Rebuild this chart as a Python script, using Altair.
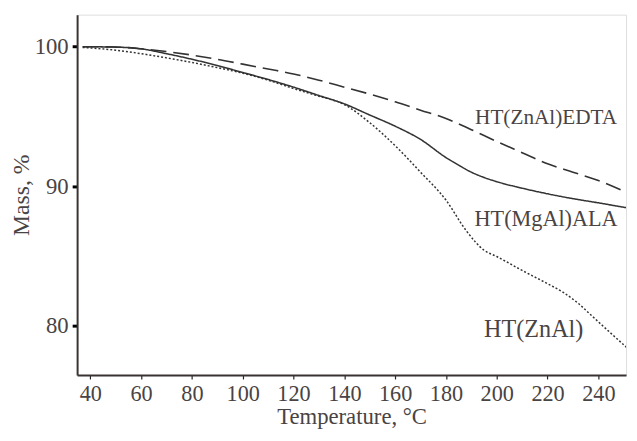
import altair as alt
import pandas as pd

# ---- data ----
edta_t = [37, 50, 60, 70, 80, 90, 100, 110, 120, 130, 140, 150, 160, 170, 180, 190, 200, 210, 220, 230, 240, 251]
edta_m = [100.0, 99.98, 99.85, 99.65, 99.4, 99.1, 98.75, 98.4, 98.05, 97.6, 97.1, 96.6, 96.05, 95.45, 94.85, 94.05, 93.2, 92.4, 91.6, 91.0, 90.4, 89.55]

ala_t = [37, 50, 60, 70, 80, 90, 100, 110, 120, 130, 140, 150, 160, 170, 180, 185, 190, 195, 200, 210, 220, 230, 240, 251]
ala_m = [100.0, 99.97, 99.85, 99.5, 99.1, 98.65, 98.15, 97.65, 97.1, 96.5, 95.9, 95.1, 94.3, 93.35, 92.05, 91.5, 91.0, 90.62, 90.32, 89.85, 89.45, 89.1, 88.8, 88.45]

znal_t = [37, 50, 60, 70, 80, 90, 100, 110, 120, 130, 140, 150, 160, 170, 180, 188, 195, 200, 210, 220, 226, 232, 238, 244, 251]
znal_m = [99.95, 99.75, 99.5, 99.2, 98.87, 98.5, 98.1, 97.6, 97.0, 96.45, 95.85, 94.55, 92.9, 91.0, 89.0, 86.8, 85.4, 84.95, 83.95, 83.0, 82.4, 81.6, 80.6, 79.6, 78.45]

series_names = ["HT(ZnAl)EDTA", "HT(MgAl)ALA", "HT(ZnAl)"]
label_t = [247.4, 247.6, 234.1]
label_m = [94.9, 87.65, 79.65]
label_size = [21.5, 22.5, 24.5]

x_ticks = [40, 60, 80, 100, 120, 140, 160, 180, 200, 220, 240]
y_ticks = [80, 90, 100]
x_domain = [34.8, 250.9]
y_domain = [76.45, 102.3]

rows = []
for name, ts, ms in zip(series_names, [edta_t, ala_t, znal_t], [edta_m, ala_m, znal_m]):
    for t, m in zip(ts, ms):
        rows.append({"series": name, "T": t, "mass": m})
df = pd.DataFrame(rows)

labels = pd.DataFrame({"series": series_names, "T": label_t, "mass": label_m, "size": label_size})

FONT = "Liberation Serif"
TXT = "#4a4343"
LINE = "#333333"

x = alt.X("T:Q", scale=alt.Scale(domain=x_domain, nice=False, zero=False),
          axis=alt.Axis(values=x_ticks, title="Temperature, °C", grid=False,
                        tickSize=4, tickWidth=1.2, tickColor="#222222",
                        domainColor="#3a3333", domainWidth=2,
                        labelFont=FONT, labelFontSize=22.5, labelColor=TXT, labelPadding=4,
                        titleFont=FONT, titleFontSize=23, titleFontWeight="normal",
                        titleColor=TXT, titlePadding=1))
y = alt.Y("mass:Q", scale=alt.Scale(domain=y_domain, nice=False, zero=False),
          axis=alt.Axis(values=y_ticks, title="Mass, %", grid=False,
                        tickSize=5, tickWidth=3, tickColor="#000000",
                        domainColor="#3a3333", domainWidth=2,
                        labelFont=FONT, labelFontSize=23, labelColor=TXT, labelPadding=4,
                        titleFont=FONT, titleFontSize=24, titleFontWeight="normal",
                        titleColor=TXT, titlePadding=1))

stroke_dash = alt.StrokeDash("series:N",
                             scale=alt.Scale(domain=series_names, range=[[16, 7], [1, 0], [2, 2]]),
                             legend=None)
stroke_w = alt.StrokeWidth("series:N",
                           scale=alt.Scale(domain=series_names, range=[1.6, 1.5, 1.6]),
                           legend=None)

lines = alt.Chart(df).mark_line(interpolate="monotone", color=LINE, clip=True).encode(
    x=x, y=y, strokeDash=stroke_dash, strokeWidth=stroke_w, detail="series:N"
)

texts = alt.Chart(labels).mark_text(align="right", baseline="middle", font=FONT, color=TXT).encode(
    x=alt.X("T:Q"), y=alt.Y("mass:Q"), text="series:N",
    size=alt.Size("size:Q", scale=None, legend=None)
)

chart = alt.layer(lines, texts).properties(
    width=556, height=365,
    autosize=alt.AutoSizeParams(type="none"),
    padding={"left": 70, "top": 4, "right": 3, "bottom": 56},
).configure_view(stroke="#4f4747", strokeWidth=1.5).configure(background="white")

chart.save("out.html", embed_options={"renderer": "svg", "actions": False})
